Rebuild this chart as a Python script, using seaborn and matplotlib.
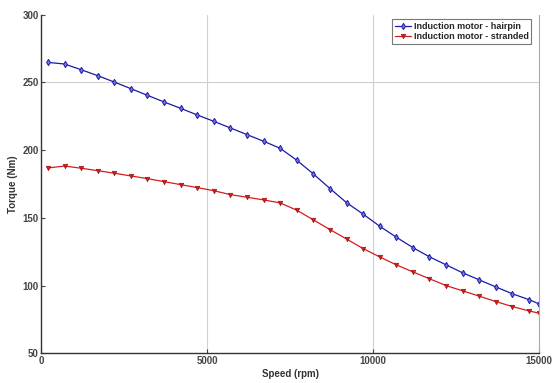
import matplotlib
matplotlib.use("Agg")
import matplotlib.pyplot as plt
import seaborn as sns
import pandas as pd

speed = [200, 700, 1200, 1700, 2200, 2700, 3200, 3700, 4200, 4700, 5200, 5700, 6200,
         6700, 7200, 7700, 8200, 8700, 9200, 9700, 10200, 10700, 11200, 11700, 12200,
         12700, 13200, 13700, 14200, 14700, 15000]
hairpin = [264.7, 263.5, 259.3, 254.9, 250.2, 245.3, 240.4, 235.5, 230.8, 225.9, 221.2,
           216.3, 211.4, 206.5, 201.3, 192.5, 182.4, 171.6, 161.2, 152.7, 143.8, 135.7,
           128.0, 121.2, 115.3, 109.4, 104.2, 99.0, 93.9, 89.6, 86.5]
stranded = [186.8, 188.2, 186.6, 184.8, 182.9, 180.9, 178.9, 176.7, 174.5, 172.3, 170.0,
            167.1, 165.2, 163.2, 161.0, 155.6, 148.5, 141.3, 134.4, 127.3, 121.1, 115.3,
            110.1, 105.0, 100.0, 96.1, 92.2, 88.2, 84.5, 81.3, 79.6]
labels = ["Induction motor - hairpin", "Induction motor - stranded"]
x_ticks = [0, 5000, 10000, 15000]
y_ticks = [50, 100, 150, 200, 250, 300]

sns.set_style("white")
plt.rcParams['font.family'] = ['Liberation Sans', 'DejaVu Sans']

fig = plt.figure(figsize=(5.52, 3.83), dpi=100)
ax = fig.add_axes([0.0748, 0.0775, 0.9016, 0.8845])

df_h = pd.DataFrame({"speed": speed, "torque": hairpin})
df_s = pd.DataFrame({"speed": speed, "torque": stranded})

sns.lineplot(data=df_h, x="speed", y="torque", ax=ax, color="#1a1aa8", marker="d",
             markersize=3.2, markerfacecolor="#7a7ad8", markeredgecolor="#1a1aa8",
             markeredgewidth=0.7, linewidth=0.9, label=labels[0])
sns.lineplot(data=df_s, x="speed", y="torque", ax=ax, color="#d41c1c", marker="v",
             markersize=3.2, markerfacecolor="#d41c1c", markeredgecolor="#a01010",
             markeredgewidth=0.5, linewidth=0.9, label=labels[1])

ax.set_xlim(0, 15000)
ax.set_ylim(50, 300)
ax.set_xticks(x_ticks)
ax.set_yticks(y_ticks)
ax.set_xticklabels([str(t) for t in x_ticks], fontsize=7, fontweight="bold", color="#333333")
ax.set_yticklabels([str(t) for t in y_ticks], fontsize=7, fontweight="bold", color="#333333")
ax.tick_params(direction="in", length=3, width=0.8, colors="#444444", pad=2,
               top=False, right=False, bottom=True, left=True)

for xv in [5000, 10000]:
    ax.axvline(xv, color="#d0d0d0", linewidth=0.8, zorder=0)
ax.axhline(250, color="#d0d0d0", linewidth=0.8, zorder=0)

ax.set_xlabel("Speed (rpm)", fontsize=7, fontweight="bold", color="#333333", labelpad=2)
ax.set_ylabel("Torque (Nm)", fontsize=7, fontweight="bold", color="#333333", labelpad=3)

for s in ["left", "bottom"]:
    ax.spines[s].set_color("#333333")
    ax.spines[s].set_linewidth(1.0)
ax.spines["right"].set_color("#aaaaaa")
ax.spines["right"].set_linewidth(0.8)
ax.spines["top"].set_visible(False)

leg = ax.legend(loc="upper right", bbox_to_anchor=(0.99, 0.995), fontsize=6.5,
                prop={"weight": "bold", "size": 6.5}, frameon=True, fancybox=False,
                handlelength=1.8, handletextpad=0.3, borderpad=0.3, labelspacing=0.15,
                borderaxespad=0.3)
leg.get_frame().set_edgecolor("#555555")
leg.get_frame().set_linewidth(0.8)

fig.savefig("out.png", dpi=100)
